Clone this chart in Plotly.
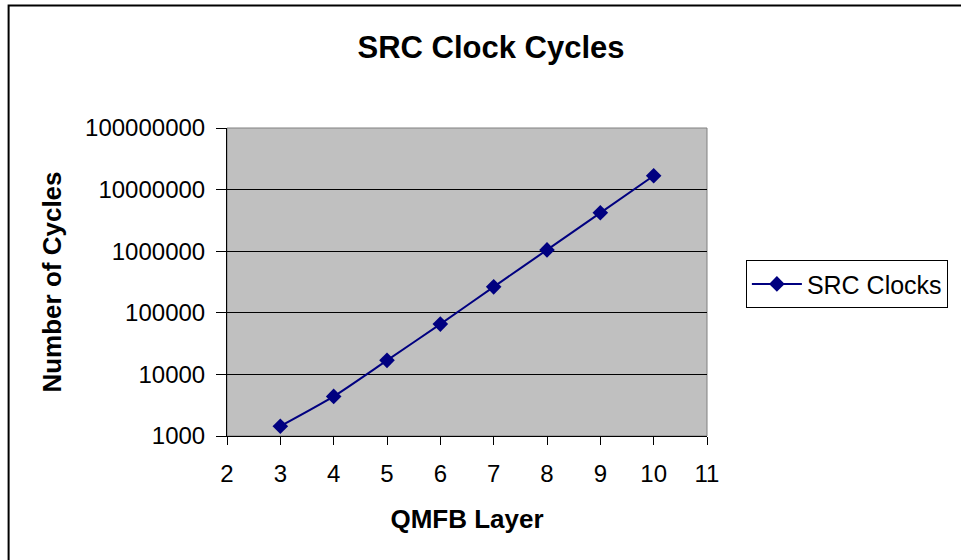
import plotly.graph_objects as go

# QMFB layer vs. SRC clock cycles
layers = [3, 4, 5, 6, 7, 8, 9, 10]
src_clocks = [1440, 4390, 16900, 65500, 264000, 1050000, 4200000, 16800000]

y_ticks = [1000, 10000, 100000, 1000000, 10000000, 100000000]
x_ticks = [2, 3, 4, 5, 6, 7, 8, 9, 10, 11]

FONT = "Liberation Sans, Arial, sans-serif"
NAVY = "#000080"

fig = go.Figure()
fig.add_trace(go.Scatter(
    x=layers,
    y=src_clocks,
    mode="lines+markers",
    name="SRC Clocks",
    line=dict(color=NAVY, width=2, shape="spline", smoothing=0.6),
    marker=dict(symbol="diamond", size=12, color=NAVY),
))

# grey frame round the plot area, black frame round the whole chart
fig.add_shape(type="rect", xref="paper", yref="paper", x0=0, x1=1, y0=0, y1=1,
              line=dict(color="#808080", width=1), layer="below")
fig.add_shape(type="rect", xref="paper", yref="paper",
              x0=-0.455, x1=1.6, y0=-0.5, y1=1.398,
              line=dict(color="black", width=2))

fig.update_layout(
    width=961, height=560,
    margin=dict(l=227, r=254, t=128, b=124),
    paper_bgcolor="white",
    plot_bgcolor="#C0C0C0",
    font=dict(family=FONT, size=24, color="black"),
    title=dict(text="SRC Clock Cycles", x=491 / 961, xanchor="center",
               y=1 - 47 / 560, yanchor="middle",
               font=dict(family=FONT, size=31, weight="bold")),
    showlegend=True,
    legend=dict(x=1.081, xanchor="left", y=0.571, yanchor="top",
                bordercolor="black", borderwidth=1, bgcolor="white",
                itemwidth=50,
                font=dict(family=FONT, size=25)),
    xaxis=dict(
        range=[2, 11], tickvals=x_ticks, showgrid=False, zeroline=False,
        showline=True, linecolor="black", linewidth=1,
        ticks="outside", ticklen=8, tickcolor="black",
        ticklabelstandoff=8,
        title=dict(text="QMFB Layer", standoff=24,
                   font=dict(family=FONT, size=26, weight="bold")),
    ),
    yaxis=dict(
        type="log", range=[3, 8], tickvals=y_ticks,
        ticktext=[str(v) for v in y_ticks],
        showgrid=True, gridcolor="black", gridwidth=1, zeroline=False,
        showline=True, linecolor="black", linewidth=1,
        ticks="outside", ticklen=10, tickcolor="black",
        ticklabelstandoff=6,
        title=dict(text="Number of Cycles", standoff=15,
                   font=dict(family=FONT, size=26, weight="bold")),
    ),
)

# the page body has a default 8px margin; drop it so the chart sits at 0,0
fig.write_html("out.html", config={"displayModeBar": False},
               post_script="document.body.style.margin = '0';")
